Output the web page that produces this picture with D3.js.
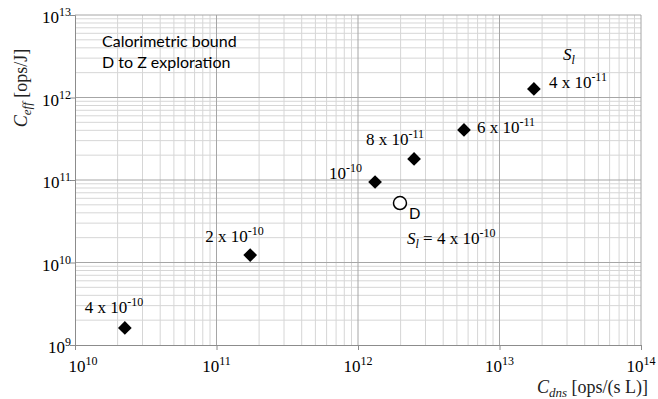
<!DOCTYPE html>
<html>
<head>
<meta charset="utf-8">
<script src="https://cdn.jsdelivr.net/npm/d3@7"></script>
<style>
body { margin: 0; background: #fff; }
</style>
</head>
<body>
<svg id="chart" width="658" height="399"></svg>
<script>
// S_l values for each point (label base and exponent)
var labelBase = ["4 x 10", "2 x 10", "10", "8 x 10", "6 x 10", "4 x 10"];
var labelExp = ["-10", "-10", "-10", "-11", "-11", "-11"];
var cdns = [2.25e10, 1.73e11, 1.32e12, 2.49e12, 5.61e12, 1.75e13];
var ceff = [1.61e9, 1.23e10, 9.46e10, 1.80e11, 4.04e11, 1.27e12];
// design point D
var dPoint = [1.98e12, 5.26e10];
var xTicks = [1e10, 1e11, 1e12, 1e13, 1e14];
var yTicks = [1e9, 1e10, 1e11, 1e12, 1e13];

// label offsets from each diamond (layout only)
var labelOffset = [[-40, -15], [-45, -13], [-46, -3], [-48, -14], [13, 3], [15, -1]];

var svg = d3.select("#chart"),
  margin = { top: 15, right: 17, bottom: 54, left: 75 },
  width = +svg.attr("width") - margin.left - margin.right,
  height = +svg.attr("height") - margin.top - margin.bottom;

var x = d3.scaleLog().domain([1e10, 1e14]).range([0, width]);
var y = d3.scaleLog().domain([1e9, 1e13]).range([height, 0]);

var g = svg.append("g").attr("transform", "translate(" + margin.left + "," + margin.top + ")");

// minor + major grid
var minorX = [], minorY = [];
xTicks.slice(0, -1).forEach(function (t) {
  for (var k = 2; k <= 9; k++) minorX.push(t * k);
});
yTicks.slice(0, -1).forEach(function (t) {
  for (var k = 2; k <= 9; k++) minorY.push(t * k);
});

g.selectAll(".mx").data(minorX).enter().append("line")
  .attr("x1", function (d) { return x(d); }).attr("x2", function (d) { return x(d); })
  .attr("y1", 0).attr("y2", height)
  .attr("stroke", "#d6d6d6").attr("stroke-width", 1);
g.selectAll(".my").data(minorY).enter().append("line")
  .attr("y1", function (d) { return y(d); }).attr("y2", function (d) { return y(d); })
  .attr("x1", 0).attr("x2", width)
  .attr("stroke", "#d6d6d6").attr("stroke-width", 1);
g.selectAll(".gx").data(xTicks.slice(1)).enter().append("line")
  .attr("x1", function (d) { return x(d); }).attr("x2", function (d) { return x(d); })
  .attr("y1", 0).attr("y2", height)
  .attr("stroke", "#a6a6a6").attr("stroke-width", 1);
g.selectAll(".gy").data(yTicks.slice(1)).enter().append("line")
  .attr("y1", function (d) { return y(d); }).attr("y2", function (d) { return y(d); })
  .attr("x1", 0).attr("x2", width)
  .attr("stroke", "#a6a6a6").attr("stroke-width", 1);

// axes
var xAxis = g.append("g")
  .attr("transform", "translate(0," + height + ")")
  .call(d3.axisBottom(x).tickValues(xTicks).tickSize(5).tickFormat(""));
var yAxis = g.append("g")
  .call(d3.axisLeft(y).tickValues(yTicks).tickSize(5).tickFormat(""));
[xAxis, yAxis].forEach(function (a) {
  a.select(".domain").attr("stroke", "#8c8c8c");
  a.selectAll(".tick line").attr("stroke", "#8c8c8c");
});

function powLabel(sel, base, exp, size, expSize) {
  sel.append("tspan").attr("font-size", size).text(base);
  sel.append("tspan").attr("font-size", expSize).attr("dy", -7).text(exp);
}

var serif = "'Liberation Serif', 'Times New Roman', serif";

xTicks.forEach(function (t, i) {
  var txt = g.append("text")
    .attr("x", x(t) + (i === 0 ? 8 : 0)).attr("y", height + 27)
    .attr("text-anchor", "middle")
    .attr("font-family", serif).attr("fill", "#000");
  powLabel(txt, "10", Math.round(Math.log10(t)), "17px", "12px");
});
yTicks.forEach(function (t) {
  var txt = g.append("text")
    .attr("x", -4).attr("y", y(t) + 8)
    .attr("text-anchor", "end")
    .attr("font-family", serif).attr("fill", "#000");
  powLabel(txt, "10", Math.round(Math.log10(t)), "17px", "12px");
});

// axis titles
var yt = svg.append("text")
  .attr("transform", "translate(27,88) rotate(-90)")
  .attr("text-anchor", "middle")
  .attr("font-family", serif).attr("font-size", "18px").attr("fill", "#222");
yt.append("tspan").attr("font-style", "italic").text("C");
yt.append("tspan").attr("font-style", "italic").attr("font-size", "13px").attr("dy", 4).text("eff");
yt.append("tspan").attr("dy", -4).text(" [ops/J]");

var xt = svg.append("text")
  .attr("x", 648).attr("y", 393)
  .attr("text-anchor", "end")
  .attr("font-family", serif).attr("font-size", "18px").attr("fill", "#222");
xt.append("tspan").attr("font-style", "italic").text("C");
xt.append("tspan").attr("font-style", "italic").attr("font-size", "13px").attr("dy", 4).text("dns");
xt.append("tspan").attr("dy", -4).text(" [ops/(s L)]");

// annotation box text
var sans = "Lato, 'Open Sans', sans-serif";
g.append("text").attr("x", 27).attr("y", 32)
  .attr("font-family", sans).attr("font-size", "16px").attr("fill", "#000")
  .text("Calorimetric bound");
g.append("text").attr("x", 27).attr("y", 53)
  .attr("font-family", sans).attr("font-size", "16px").attr("fill", "#000")
  .text("D to Z exploration");

// diamonds
var diamond = d3.symbol().type(d3.symbolDiamond2).size(120);
g.selectAll(".pt").data(cdns).enter().append("path")
  .attr("class", "pt")
  .attr("d", diamond)
  .attr("transform", function (d, i) {
    return "translate(" + x(d) + "," + y(ceff[i]) + ")";
  })
  .attr("fill", "#000");

// point labels
cdns.forEach(function (d, i) {
  var txt = g.append("text")
    .attr("x", x(d) + labelOffset[i][0])
    .attr("y", y(ceff[i]) + labelOffset[i][1])
    .attr("font-family", serif).attr("fill", "#000");
  powLabel(txt, labelBase[i], labelExp[i], "17px", "12px");
});

// S_l heading near top right
var sl = g.append("text")
  .attr("x", x(cdns[5]) + 29).attr("y", y(ceff[5]) - 29)
  .attr("font-family", serif).attr("font-style", "italic").attr("font-size", "17px").attr("fill", "#000");
sl.append("tspan").text("S");
sl.append("tspan").attr("font-size", "12px").attr("dy", 4).text("l");

// design point D
var dx = x(dPoint[0]), dy = y(dPoint[1]);
g.append("circle").attr("cx", dx).attr("cy", dy).attr("r", 6.5)
  .attr("fill", "#fff").attr("stroke", "#000").attr("stroke-width", 1.5);
g.append("text").attr("x", dx + 9).attr("y", dy + 16)
  .attr("font-family", sans).attr("font-size", "15px").attr("fill", "#000").text("D");
var dl = g.append("text").attr("x", dx + 7).attr("y", dy + 41)
  .attr("font-family", serif).attr("font-size", "17px").attr("fill", "#000");
dl.append("tspan").attr("font-style", "italic").text("S");
dl.append("tspan").attr("font-style", "italic").attr("font-size", "12px").attr("dy", 4).text("l");
dl.append("tspan").attr("dy", -4).text(" = 4 x 10");
dl.append("tspan").attr("font-size", "12px").attr("dy", -7).text("-10");
</script>
</body>
</html>
